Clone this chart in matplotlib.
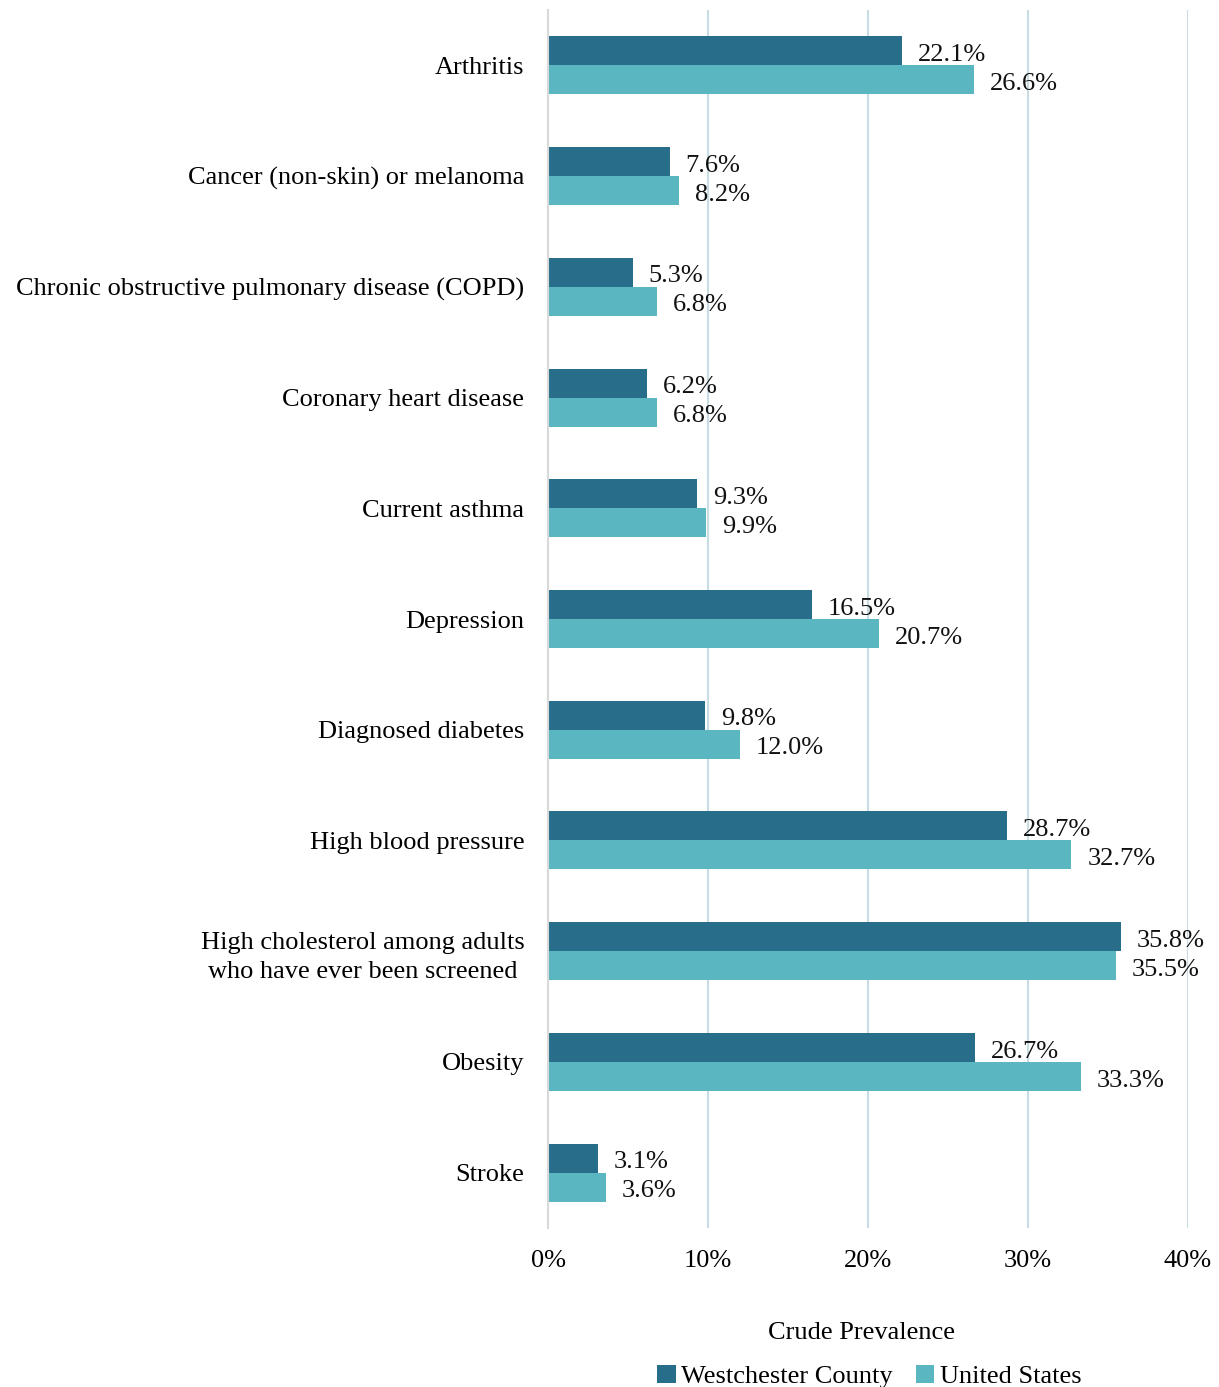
import matplotlib.pyplot as plt
import numpy as np

plt.rcParams['font.family'] = ['Liberation Serif', 'DejaVu Serif']

categories = [
    'Arthritis',
    'Cancer (non-skin) or melanoma',
    'Chronic obstructive pulmonary disease (COPD)',
    'Coronary heart disease',
    'Current asthma',
    'Depression',
    'Diagnosed diabetes',
    'High blood pressure',
    'High cholesterol among adults\nwho have ever been screened ',
    'Obesity',
    'Stroke',
]
westchester = [22.1, 7.6, 5.3, 6.2, 9.3, 16.5, 9.8, 28.7, 35.8, 26.7, 3.1]
united_states = [26.6, 8.2, 6.8, 6.8, 9.9, 20.7, 12.0, 32.7, 35.5, 33.3, 3.6]
x_ticks = [0, 10, 20, 30, 40]
x_tick_labels = ['0%', '10%', '20%', '30%', '40%']

dark = '#286e8a'
light = '#5ab6c1'
fs = 19

fig = plt.figure(figsize=(12.19, 13.87), dpi=100)
ax = fig.add_axes([0.4496, 0.1146, 0.525, 0.8782])

y = np.arange(len(categories))
h = 0.262
bars_w = ax.barh(y - h / 2, westchester, height=h, color=dark, label='Westchester County', zorder=3)
bars_us = ax.barh(y + h / 2, united_states, height=h, color=light, label='United States', zorder=3)

for bars, vals in ((bars_w, westchester), (bars_us, united_states)):
    for b, v in zip(bars, vals):
        ax.annotate(f'{v:.1f}%', (v, b.get_y() + b.get_height() / 2),
                    xytext=(11.5, -3), textcoords='offset points',
                    va='center', ha='left', fontsize=fs, color='#111111')

ax.set_ylim(len(categories) - 0.5, -0.5)
ax.set_xlim(0, 40)
ax.set_xticks(x_ticks)
ax.set_xticklabels(x_tick_labels)
ax.set_yticks(y)
ax.set_yticklabels(categories)
for lbl in ax.get_yticklabels():
    lbl.set_linespacing(1.45)
ax.tick_params(axis='y', length=0, pad=17, labelsize=fs)
ax.tick_params(axis='x', length=0, pad=16, labelsize=fs)

ax.grid(axis='x', color='#c8dce3', linewidth=1.5, zorder=0)
for side in ('top', 'right', 'bottom'):
    ax.spines[side].set_visible(False)
ax.spines['left'].set_color('#d9d9d9')
ax.spines['left'].set_linewidth(1.5)
ax.spines['left'].set_zorder(4)

ax.set_xlabel('Crude Prevalence', fontsize=fs)
ax.xaxis.set_label_coords(0.49, -0.077)

ax.legend(loc='center', bbox_to_anchor=(0.502, -0.122), ncol=2, frameon=False,
          fontsize=fs, handlelength=0.7, handleheight=0.7, handletextpad=0.2,
          columnspacing=0.87, borderpad=0)

fig.savefig('out.png', dpi=100)
